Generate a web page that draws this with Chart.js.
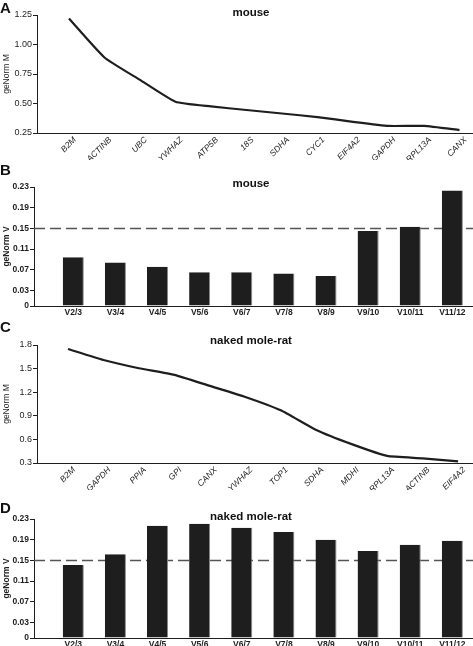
<!DOCTYPE html>
<html>
<head>
<meta charset="utf-8">
<script src="https://cdn.jsdelivr.net/npm/chart.js@4"></script>
<style>
  html, body { margin: 0; padding: 0; background: #fff; width: 473px; height: 646px; overflow: hidden; }
  body { position: relative; font-family: "Liberation Sans", Arial, sans-serif; color: #111; }
  .panel { position: absolute; left: 0; width: 473px; }
  .panel canvas { position: absolute; left: 0; top: 0; }
  .letter { position: absolute; left: 0; font-weight: bold; font-size: 15px; line-height: 15px; }
  .title { position: absolute; left: 151px; width: 200px; text-align: center; font-weight: bold; font-size: 11.5px; line-height: 12px; }
</style>
</head>
<body>
<div class="panel" style="top:0;height:168px"><canvas id="chartA" width="473" height="168"></canvas></div>
<div class="panel" style="top:160px;height:160px"><canvas id="chartB" width="473" height="160"></canvas></div>
<div class="panel" style="top:320px;height:178px"><canvas id="chartC" width="473" height="178"></canvas></div>
<div class="panel" style="top:490px;height:162px"><canvas id="chartD" width="473" height="162"></canvas></div>

<div class="letter" style="top:0px">A</div>
<div class="title" style="top:6px">mouse</div>
<div class="letter" style="top:162px">B</div>
<div class="title" style="top:177px">mouse</div>
<div class="letter" style="top:319px">C</div>
<div class="title" style="top:334px">naked mole-rat</div>
<div class="letter" style="top:500px">D</div>
<div class="title" style="top:510px">naked mole-rat</div>

<script>
// data
const mouseGenes = ["B2M", "ACTINB", "UBC", "YWHAZ", "ATP5B", "18S", "SDHA", "CYC1", "EIF4A2", "GAPDH", "RPL13A", "CANX"];
const mouseM = [1.22, 0.89, 0.70, 0.515, 0.475, 0.445, 0.415, 0.385, 0.345, 0.31, 0.31, 0.275];
const moleGenes = ["B2M", "GAPDH", "PPIA", "GPI", "CANX", "YWHAZ", "TOP1", "SDHA", "MDHI", "RPL13A", "ACTINB", "EIF4A2"];
const moleM = [1.75, 1.61, 1.505, 1.42, 1.28, 1.14, 0.97, 0.72, 0.54, 0.39, 0.36, 0.32];
const pairLabels = ["V2/3", "V3/4", "V4/5", "V5/6", "V6/7", "V7/8", "V8/9", "V9/10", "V10/11", "V11/12"];
const mouseV = [0.094, 0.084, 0.076, 0.065, 0.065, 0.063, 0.058, 0.145, 0.153, 0.223];
const moleV = [0.141, 0.162, 0.217, 0.221, 0.213, 0.205, 0.19, 0.168, 0.18, 0.188];

// tick labels
const mouseMTicks = [0.25, 0.50, 0.75, 1.00, 1.25];
const moleMTicks = [0.3, 0.6, 0.9, 1.2, 1.5, 1.8];
const vTicks = [0, 0.03, 0.07, 0.11, 0.15, 0.19, 0.23];
const vCutoff = 0.15;

const FONT = "'Liberation Sans', Arial, sans-serif";
const INK = "#1e1e1e";

// dashed threshold line, drawn behind the bars
const cutoffLine = {
  id: "cutoffLine",
  beforeDatasetsDraw(chart, args, opts) {
    if (opts.value == null) return;
    const { ctx, chartArea, scales } = chart;
    const y = scales.y.getPixelForValue(opts.value);
    ctx.save();
    ctx.strokeStyle = "#555";
    ctx.lineWidth = 1.5;
    ctx.setLineDash([11, 5]);
    ctx.beginPath();
    ctx.moveTo(chartArea.left, y);
    ctx.lineTo(chartArea.right, y);
    ctx.stroke();
    ctx.restore();
  }
};

const yAxis = (ticks, digits, title, width, bold) => ({
  min: ticks[0],
  max: ticks[ticks.length - 1],
  afterFit: (s) => { s.width = width; },
  afterBuildTicks: (s) => { s.ticks = ticks.map((v) => ({ value: v })); },
  ticks: {
    color: INK,
    padding: 1,
    font: { family: FONT, size: bold ? 8.5 : 9, weight: bold ? "bold" : "normal" },
    callback: (v) => (v === 0 ? "0" : v.toFixed(digits)),
  },
  grid: { drawOnChartArea: false, drawTicks: true, tickLength: 4, color: INK },
  border: { color: INK, width: 1 },
  title: {
    display: true,
    text: title,
    color: INK,
    font: { family: FONT, size: 8.5, weight: bold ? "bold" : "normal" },
    padding: { top: 2, bottom: 0 },
  },
});

const xAxis = (labels, min, max, height, rotated) => ({
  type: "linear",
  offset: false,
  min: min,
  max: max,
  afterFit: (s) => { s.height = height; },
  afterBuildTicks: (s) => { s.ticks = labels.map((_, i) => ({ value: i })); },
  ticks: {
    autoSkip: false,
    color: INK,
    padding: 2,
    minRotation: rotated ? 45 : 0,
    maxRotation: rotated ? 45 : 0,
    labelOffset: rotated ? 6 : 0,
    font: rotated
      ? { family: FONT, size: 8.5, style: "italic" }
      : { family: FONT, size: 8.5, weight: "bold" },
    callback: (v) => labels[v] || "",
  },
  grid: { display: false, drawTicks: false, tickLength: 0 },
  border: { color: INK, width: 1 },
});

function makeLine(id, labels, values, ticks, digits, xmin, xmax, top, bottom) {
  return new Chart(document.getElementById(id), {
    type: "line",
    data: {
      datasets: [{
        data: values.map((v, i) => ({ x: i, y: v })),
        borderColor: INK,
        borderWidth: 2.2,
        pointRadius: 0,
        tension: 0.15,
        fill: false,
      }],
    },
    options: {
      responsive: false,
      animation: false,
      layout: { padding: { top: top, left: 0, right: 0, bottom: bottom } },
      plugins: { legend: { display: false }, tooltip: { enabled: false } },
      scales: {
        x: xAxis(labels, xmin, xmax, 27, true),
        y: yAxis(ticks, digits, "geNorm M", 37, false),
      },
    },
  });
}

function makeBars(id, labels, values, top) {
  return new Chart(document.getElementById(id), {
    type: "bar",
    data: {
      datasets: [{
        data: values.map((v, i) => ({ x: i, y: v })),
        backgroundColor: INK,
        borderColor: "#8a8a8a",
        borderWidth: { top: 0, right: 1, bottom: 0, left: 0 },
        borderSkipped: false,
        categoryPercentage: 1,
        barPercentage: 0.5,
      }],
    },
    plugins: [cutoffLine],
    options: {
      responsive: false,
      animation: false,
      layout: { padding: { top: top, left: 0, right: 0, bottom: 0 } },
      plugins: {
        legend: { display: false },
        tooltip: { enabled: false },
        cutoffLine: { value: vCutoff },
      },
      scales: {
        x: xAxis(labels, -0.933, 9.49, 14, false),
        y: yAxis(vTicks, 2, "geNorm V", 34, true),
      },
    },
  });
}

makeLine("chartA", mouseGenes, mouseM, mouseMTicks, 2, -0.90, 11.38, 15, 8);
makeBars("chartB", pairLabels, mouseV, 27);
makeLine("chartC", moleGenes, moleM, moleMTicks, 1, -0.874, 11.42, 25, 8);
makeBars("chartD", pairLabels, moleV, 29);
</script>
</body>
</html>
